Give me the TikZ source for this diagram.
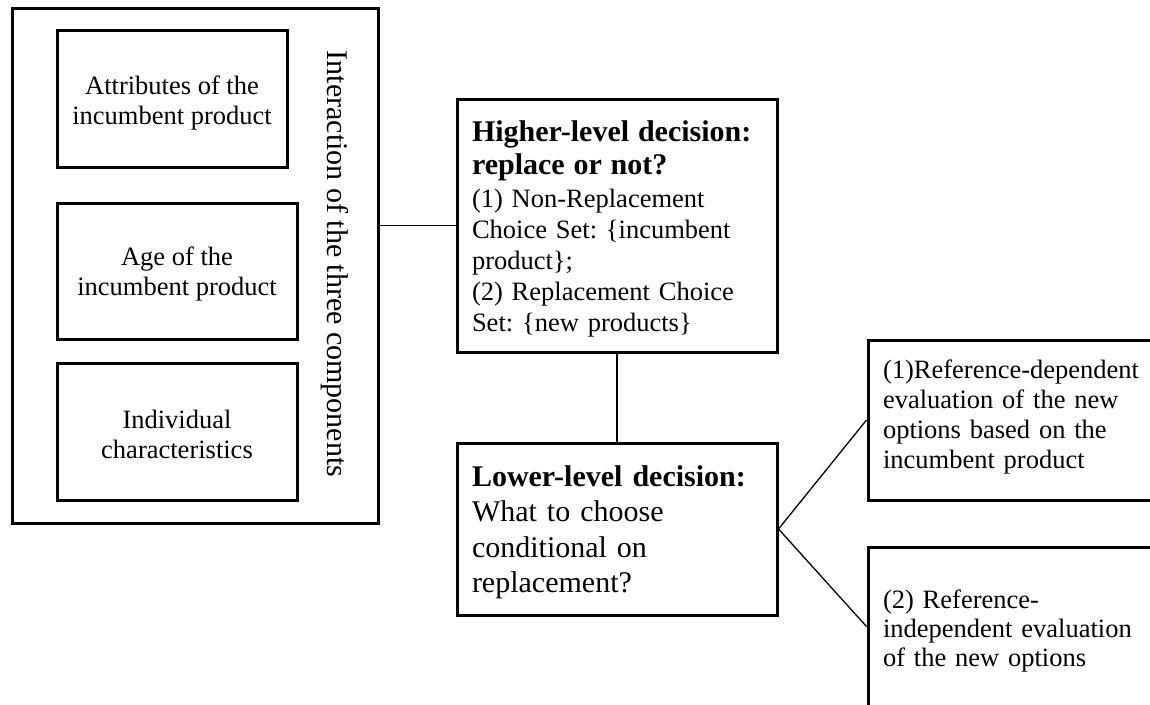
\documentclass[tikz,border=0pt]{standalone}
\usepackage{fontspec}
\setmainfont{Liberation Serif}
\frenchspacing
\newcommand{\topstrut}[1]{\rule{0pt}{#1}}
\newcommand{\botstrut}[1]{\rule[-#1]{0pt}{0pt}}
\begin{document}
\begin{tikzpicture}[x=1pt,y=-1pt,
  box/.style={draw, line width=3pt, rectangle, inner xsep=15pt, inner ysep=0pt},
  small/.style={font=\fontsize{26.5}{30}\selectfont},
  conn/.style={draw, line width=1.3pt}]
\path[use as bounding box] (0,0) rectangle (1150,704);
\clip (0,0) rectangle (1150,704);

% left group
\node[box, minimum width=366pt, minimum height=515pt] (outer) at (195,265.5) {};
\node[box, small, align=center, minimum width=230pt, minimum height=137pt] (attr) at (172,98.5)
  {\topstrut{27pt}Attributes of the\\incumbent product};
\node[box, small, align=center, minimum width=240pt, minimum height=136pt] (age) at (177,271)
  {\topstrut{25pt}Age of the\\incumbent product};
\node[box, small, align=center, minimum width=240pt, minimum height=137pt] (indiv) at (177,431.5)
  {\topstrut{24pt}Individual\\characteristics};
\node[rotate=-90, font=\fontsize{30}{34}\selectfont, inner sep=0pt] (inter) at (335,264)
  {Interaction of the three components};

% higher-level decision
\node[box, align=left, text width=290pt, minimum height=253pt,
      font=\fontsize{26.5}{31}\selectfont] (higher) at (617,225.5)
  {\topstrut{27.5pt}\textbf{\fontsize{30}{33}\selectfont Higher-level decision:}\\[2pt]
   \textbf{\fontsize{30}{33}\selectfont replace or not?}\\[2pt]
   (1) Non-Replacement\\
   Choice Set: \{incumbent\\
   product\};\\
   (2) Replacement Choice\\
   Set: \{new products\}};

% lower-level decision
\node[box, align=left, text width=290pt, minimum height=172pt,
      font=\fontsize{30}{35.3}\selectfont] (lower) at (617,529)
  {\topstrut{27.5pt}\textbf{Lower-level decision:}\\
   What to choose\\
   conditional on\\
   replacement?};

% right boxes (run past the right edge)
\node[box, small, align=left, text width=282pt, minimum height=160pt] (ref1) at (1024,420)
  {(1)Reference-dependent\\
   evaluation of the new\\
   options based on the\\
   incumbent product\botstrut{12pt}};
\node[box, align=left, text width=282pt, minimum height=159pt,
      font=\fontsize{26.5}{29}\selectfont] (ref2) at (1024,626.5)
  {\topstrut{28pt}(2) Reference-\\
   independent evaluation\\
   of the new options};

% connectors
\draw[conn] (higher.west) -- (higher.west -| outer.east);
\draw[conn] (higher.south) -- (lower.north);
\draw[conn] (lower.east) -- (ref1.west);
\draw[conn] (lower.east) -- (ref2.west);
\end{tikzpicture}
\end{document}
